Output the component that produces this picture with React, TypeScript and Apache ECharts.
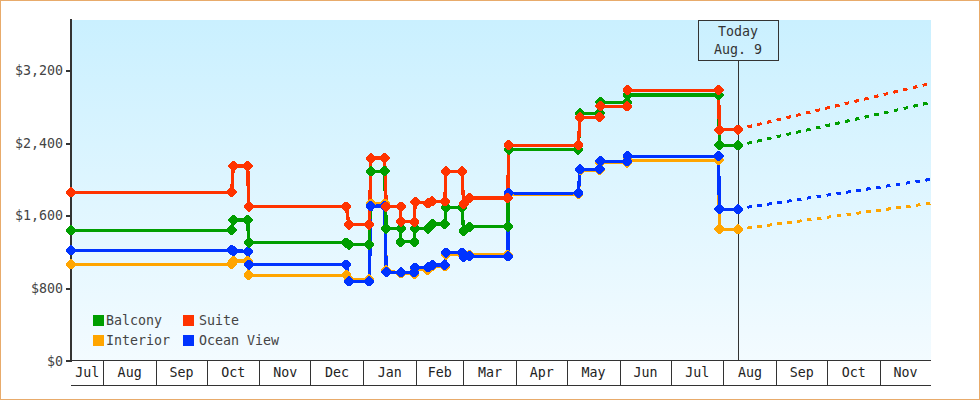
import * as echarts from "echarts";
import { useEffect, useRef } from "react";

// x values are days counted from Jul 1 of the first year
const dayMin = 12;
const dayMax = 518;
const todayDay = 404.5;
const todayLabel = "Today\nAug. 9";

const monthNames = ["Jul", "Aug", "Sep", "Oct", "Nov", "Dec", "Jan", "Feb", "Mar", "Apr", "May", "Jun", "Jul", "Aug", "Sep", "Oct", "Nov"];
const monthStarts = [12, 31, 62, 92, 123, 153, 184, 215, 243, 274, 304, 335, 365, 396, 427, 457, 488];

const priceTicks = [0, 800, 1600, 2400, 3200];

const days = [12, 106.5, 107.5, 116, 116.5, 174, 175.5, 187.5, 188.5, 196.5, 197.5, 206, 206, 214, 214.5, 222, 224.5, 232, 232.5, 242, 243, 246.5, 269, 269.5, 310.5, 311.5, 323, 323.5, 339, 339.5, 393, 393.5, 404.5];

const suite = [1860, 1860, 2150, 2150, 1703, 1703, 1505, 1505, 2238, 2238, 1701, 1701, 1536, 1536, 1753, 1739, 1761, 1761, 2091, 2091, 1731, 1797, 1797, 2378, 2378, 2687, 2687, 2808, 2808, 2984, 2984, 2550, 2550];
const balcony = [1441, 1441, 1555, 1555, 1306, 1306, 1282, 1282, 2091, 2091, 1459, 1459, 1315, 1315, 1459, 1459, 1510, 1510, 1695, 1695, 1437, 1481, 1481, 2332, 2332, 2731, 2731, 2852, 2852, 2933, 2933, 2378, 2378];
const oceanView = [1220, 1220, 1216, 1209, 1064, 1064, 879, 879, 1709, 1709, 981, 976, 976, 976, 1029, 1033, 1058, 1058, 1194, 1194, 1150, 1154, 1154, 1849, 1849, 2113, 2113, 2202, 2202, 2257, 2257, 1672, 1672];
const interior = [1066, 1066, 1103, 1103, 945, 945, 899, 899, 1736, 1736, 998, 965, 965, 959, 1009, 1003, 1042, 1042, 1174, 1174, 1158, 1169, 1169, 1841, 1841, 2106, 2106, 2188, 2188, 2213, 2213, 1452, 1452];

// dashed forecast past today
const forecastDays = [410, 518];
const suiteForecast = [2580, 3062];
const balconyForecast = [2400, 2852];
const oceanViewForecast = [1695, 2003];
const interiorForecast = [1466, 1739];

const GREEN = "#009e00";
const RED = "#ff3300";
const ORANGE = "#ffa500";
const BLUE = "#0033ff";
const INK = "#333333";
const FONT = "DejaVu Sans Mono";
const FONT_SIZE = 13.3;
const MARKER = "path://M4 0L6 0L10 4L10 6L6 10L4 10L0 6L0 4Z";

const monthLabels = monthStarts.map((start, i) => ({
  mid: (start + (monthStarts[i + 1] ?? dayMax)) / 2,
  name: monthNames[i],
}));

const stepSeries = (name: string, color: string, values: number[], extra = {}) => ({
  name,
  type: "line",
  color,
  symbol: MARKER,
  symbolSize: 10,
  showSymbol: true,
  showAllSymbol: true,
  lineStyle: { color, width: 3.3 },
  itemStyle: { color },
  data: days.map((d, i) => [d, values[i]]),
  silent: true,
  ...extra,
});

const forecastSeries = (name: string, color: string, values: number[]) => ({
  name,
  type: "line",
  symbol: "none",
  lineStyle: { color, width: 3, type: [4.6, 5.4] },
  data: forecastDays.map((d, i) => [d, values[i]]),
  silent: true,
});

const options = {
  animation: false,
  textStyle: { fontFamily: FONT, fontSize: FONT_SIZE },
  graphic: [
    {
      type: "rect",
      silent: true,
      shape: { x: 0.5, y: 0.5, width: 979, height: 399 },
      style: { fill: "none", stroke: "#e8ab6b", lineWidth: 1 },
    },
  ],
  grid: {
    show: true,
    left: 71,
    top: 20,
    width: 860,
    height: 341,
    borderWidth: 0,
    backgroundColor: new echarts.graphic.LinearGradient(0, 0, 0, 1, [
      { offset: 0, color: "#caf0ff" },
      { offset: 1, color: "#f3fbff" },
    ]),
  },
  legend: [
    {
      orient: "vertical",
      left: 93,
      top: 314,
      padding: 0,
      itemWidth: 11,
      itemHeight: 11,
      itemGap: 7,
      icon: "rect",
      selectedMode: false,
      data: ["Balcony", "Interior"],
      textStyle: { fontFamily: FONT, fontSize: FONT_SIZE, color: "#444444", padding: [0, 0, 0, -3] },
    },
    {
      orient: "vertical",
      left: 183,
      top: 314,
      padding: 0,
      itemWidth: 11,
      itemHeight: 11,
      itemGap: 7,
      icon: "rect",
      selectedMode: false,
      data: ["Suite", "Ocean View"],
      textStyle: { fontFamily: FONT, fontSize: FONT_SIZE, color: "#444444" },
    },
  ],
  xAxis: [
    {
      type: "value",
      min: dayMin,
      max: dayMax,
      position: "bottom",
      offset: -1,
      splitLine: { show: false },
      axisLine: { show: true, lineStyle: { color: INK, width: 1 } },
      axisTick: {
        show: true,
        length: 25,
        lineStyle: { color: INK, width: 1 },
        customValues: monthStarts.slice(1),
      },
      axisLabel: {
        color: "#222222",
        fontFamily: FONT,
        fontSize: FONT_SIZE,
        margin: 6,
        hideOverlap: false,
        customValues: monthLabels.map((m) => m.mid),
        formatter: (value: number) => monthLabels.find((m) => m.mid === value)?.name ?? "",
      },
    },
    {
      type: "value",
      min: dayMin,
      max: dayMax,
      position: "bottom",
      offset: 24,
      splitLine: { show: false },
      axisLine: { show: true, lineStyle: { color: INK, width: 1 } },
      axisTick: { show: false },
      axisLabel: { show: false },
    },
  ],
  yAxis: {
    type: "value",
    min: 0,
    max: 3760,
    splitLine: { show: false },
    axisLine: { show: true, lineStyle: { color: INK, width: 2 } },
    axisTick: {
      show: true,
      length: 5,
      lineStyle: { color: INK, width: 2 },
      customValues: priceTicks,
    },
    axisLabel: {
      color: "#444444",
      fontFamily: FONT,
      fontSize: FONT_SIZE,
      margin: 8,
      customValues: priceTicks,
      formatter: (value: number) => "$" + value.toLocaleString("en-US"),
    },
  },
  series: [
    stepSeries("Interior", ORANGE, interior, {
      markLine: {
        silent: true,
        symbol: "none",
        z: 1,
        lineStyle: { color: INK, width: 1, type: "solid" },
        label: {
          show: true,
          position: "end",
          distance: 0,
          formatter: todayLabel,
          color: INK,
          fontFamily: FONT,
          fontSize: FONT_SIZE,
          lineHeight: 18,
          padding: [2, 16],
          borderColor: INK,
          borderWidth: 1,
        },
        data: [
          [
            { xAxis: todayDay, yAxis: 0 },
            { xAxis: todayDay, yAxis: 3318 },
          ],
        ],
      },
    }),
    stepSeries("Ocean View", BLUE, oceanView),
    stepSeries("Balcony", GREEN, balcony),
    stepSeries("Suite", RED, suite),
    forecastSeries("Interior forecast", ORANGE, interiorForecast),
    forecastSeries("Ocean View forecast", BLUE, oceanViewForecast),
    forecastSeries("Balcony forecast", GREEN, balconyForecast),
    forecastSeries("Suite forecast", RED, suiteForecast),
  ],
};

export default function App() {
  const chartRef = useRef<HTMLDivElement | null>(null);

  useEffect(() => {
    if (!chartRef.current) return;
    const chart = echarts.init(chartRef.current, undefined, { renderer: "svg" });
    chart.setOption(options);
    return () => {
      chart.dispose();
    };
  }, []);

  return (
    <div
      ref={chartRef}
      style={{ position: "absolute", left: 0, top: 0, width: 980, height: 400, background: "#fff", shapeRendering: "crispEdges" }}
    />
  );
}
